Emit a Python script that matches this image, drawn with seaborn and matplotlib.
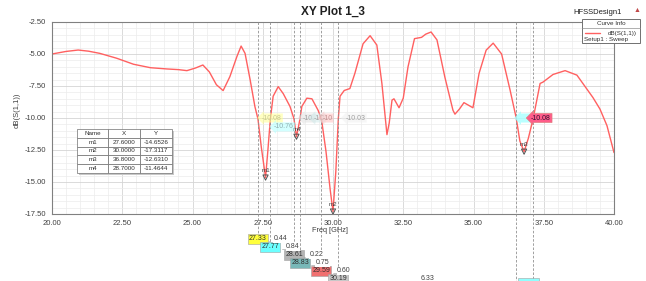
import numpy as np
import pandas as pd
import matplotlib
matplotlib.use("Agg")
import matplotlib.pyplot as plt
from matplotlib.ticker import MultipleLocator, FormatStrFormatter
from matplotlib.patches import Rectangle
from matplotlib.lines import Line2D
import seaborn as sns

# curve dB(S(1,1))
freq = [20.0, 20.5, 20.93, 21.3, 21.7, 22.3, 22.9, 23.5, 24.1, 24.5, 24.8,
        25.1, 25.37, 25.6, 25.85, 26.09, 26.33, 26.58, 26.73, 26.87, 27.05,
        27.22, 27.33, 27.45, 27.6, 27.68, 27.77, 27.87, 28.05, 28.23, 28.47,
        28.61, 28.7, 28.77, 28.83, 28.89, 29.07, 29.25, 29.47, 29.59, 29.75,
        29.9, 30.0, 30.1, 30.19, 30.25, 30.4, 30.6, 30.78, 31.07, 31.32,
        31.56, 31.74, 31.92, 32.0, 32.1, 32.17, 32.35, 32.5, 32.67, 32.9,
        33.15, 33.3, 33.49, 33.7, 33.98, 34.27, 34.34, 34.5, 34.66, 34.82,
        34.98, 35.2, 35.45, 35.7, 36.0, 36.3, 36.52, 36.65, 36.8, 36.95,
        37.12, 37.37, 37.47, 37.83, 38.26, 38.68, 39.25, 39.5, 39.75, 40.0]
db = [-5.00, -4.80, -4.69, -4.78, -4.95, -5.33, -5.80, -6.07, -6.17, -6.22,
      -6.30, -6.10, -5.86, -6.40, -7.40, -7.86, -6.77, -5.20, -4.38, -4.95,
      -7.00, -9.10, -10.08, -12.3, -14.65, -12.6, -10.10, -8.30, -7.55,
      -8.10, -9.10, -10.05, -11.46, -10.70, -10.00, -9.10, -8.45, -8.50,
      -9.40, -10.10, -12.6, -15.6, -17.31, -14.2, -10.03, -8.30, -7.85,
      -7.70, -6.50, -4.20, -3.57, -4.30, -7.30, -11.30, -10.40, -8.60,
      -8.50, -9.20, -8.45, -6.00, -3.80, -3.70, -3.45, -3.28, -3.90, -6.80,
      -9.40, -9.70, -9.30, -8.80, -9.00, -9.20, -6.50, -4.70, -4.15, -5.00,
      -7.80, -10.00, -11.80, -12.63, -11.60, -10.08, -7.30, -7.20, -6.60,
      -6.30, -6.65, -8.40, -9.30, -10.60, -12.70]

marker_names = ["m1", "m2", "m3", "m4"]
marker_x = [27.6, 30.0, 36.8, 28.7]
marker_y = [-14.6526, -17.3117, -12.6310, -11.4644]

# -10 dB crossing markers
cross_x = [27.33, 27.77, 28.61, 28.83, 29.59, 30.19, 36.52, 37.12]
cross_labels = ["27.33", "27.77", "28.61", "28.83", "29.59", "30.19"]
cross_vals = ["-10.08", "-10.76", "-10.", "-1C", "-10", "-10.03", "", "-10.08"]
delta_labels = ["0.44", "0.84", "0.22", "0.75", "0.60", "6.33"]

sns.set_style("white")
plt.rcParams["font.family"] = ["Liberation Sans", "DejaVu Sans"]

W, H = 646, 281
fig = plt.figure(figsize=(W / 100, H / 100), dpi=100)
ax = fig.add_axes([52 / W, 1 - 214 / H, 562 / W, 192 / H])

df = pd.DataFrame({"Freq": freq, "dB": db})
sns.lineplot(data=df, x="Freq", y="dB", ax=ax, color="#ff6060", linewidth=1.0)

ax.set_xlim(20, 40)
ax.set_ylim(-17.5, -2.5)
ax.xaxis.set_major_locator(MultipleLocator(2.5))
ax.xaxis.set_minor_locator(MultipleLocator(0.5))
ax.yaxis.set_major_locator(MultipleLocator(2.5))
ax.yaxis.set_minor_locator(MultipleLocator(0.5))
ax.xaxis.set_major_formatter(FormatStrFormatter("%.2f"))
ax.yaxis.set_major_formatter(FormatStrFormatter("%.2f"))
ax.tick_params(which="major", direction="out", length=3, width=0.6,
               color="#606060", labelsize=5.5, labelcolor="#404040", pad=1.5)
ax.tick_params(which="minor", direction="out", length=1.5, width=0.5, color="#606060")
ax.grid(which="major", color="#d4d4d4", linewidth=0.6)
ax.grid(which="minor", color="#ececec", linewidth=0.5)
ax.set_axisbelow(True)
for s in ax.spines.values():
    s.set_color("#808080")
    s.set_linewidth(0.8)
ax.set_xlabel("")
ax.set_ylabel("")

fig.text(330 / W, 1 - 230.5 / H, "Freq [GHz]", ha="center", va="center",
         fontsize=5.3, color="#404040")
fig.text(17 / W, 1 - 110 / H, "dB(S(1,1))", ha="center", va="center",
         rotation=90, fontsize=5.5, color="#404040")
fig.text(333 / W, 1 - 12 / H, "XY Plot 1_3", ha="center", va="center",
         fontsize=8.5, fontweight="bold", color="#202020")
fig.text(598 / W, 1 - 12 / H, "HFSSDesign1", ha="center", va="center",
         fontsize=5.5, color="#202020")
fig.text(637 / W, 1 - 11 / H, "\u25b2", ha="center", va="center",
         fontsize=5, color="#c04848")

# markers m1..m4
ax.scatter(marker_x, marker_y, marker="v", s=14, facecolors="none",
           edgecolors="#505050", linewidths=0.7, zorder=5)
for n, mx, my in zip(marker_names, marker_x, marker_y):
    ax.annotate(n, (mx, my), xytext=(0, 3.5), textcoords="offset points",
                ha="center", va="bottom", fontsize=4.5, color="#404040", zorder=6)

# vertical dashed lines and bottom readout boxes
xt = ax.get_xaxis_transform()
box_colors = ["#ffff3c", "#6cffff", "#b4b4b4", "#78b8b8", "#f07070", "#c8c8c8"]
row_px = [239 + 8 * i for i in range(7)] + [300]
row_y = [(214 - r) / 192 for r in row_px]
for i, x in enumerate(cross_x):
    ax.plot([x, x], [1, row_y[i]], transform=xt, clip_on=False,
            color="#909090", linestyle=(0, (3, 2)), linewidth=0.6, zorder=3)
for i in range(6):
    ax.text(cross_x[i], row_y[i], cross_labels[i], transform=xt, ha="center",
            va="center", fontsize=5, color="#303030", zorder=7, clip_on=False,
            bbox=dict(boxstyle="square,pad=0.15", facecolor=box_colors[i],
                      edgecolor="#a0a0a0", linewidth=0.4))
# last readout box is cut by the bottom edge in the reference
ax.add_patch(Rectangle((cross_x[6] + 0.05, (214 - 284) / 192), 0.75, 6 / 192,
                       transform=xt, clip_on=False, facecolor="#90ffff",
                       edgecolor="#a0a0a0", linewidth=0.4, zorder=7))
for i, d in enumerate(delta_labels):
    x0, x1 = cross_x[i], cross_x[i + 1]
    ax.plot([x0 + 0.4, x1], [row_y[i] - 0.01, row_y[i] - 0.01], transform=xt,
            clip_on=False, color="#a8a8a8", linewidth=0.5, zorder=2)
    tx = x0 + 0.8 if x1 - x0 < 2 else (x0 + x1) / 2
    ax.text(tx, row_y[i], d, transform=xt, ha="center", va="center",
            fontsize=5, color="#404040", clip_on=False, zorder=7,
            bbox=dict(boxstyle="square,pad=0.05", facecolor="white", edgecolor="none"))

# readouts on the -10 dB line
val_left = [27.47, 27.9, 28.92, 29.3, 29.62, 30.45, 36.62, 37.05]
val_y = [-10.0, -10.7, -10.0, -10.0, -10.0, -10.0, -10.0, -10.0]
val_face = ["#ffff90", "#b0ffff", "#e0e0e0", "#d0eaea", "#ffc0c0", "#f0f0f0", "#a8ffff", "#ff5c8a"]
val_alpha = [0.55, 0.55, 0.55, 0.55, 0.55, 0.55, 0.8, 1.0]
val_text = ["#c8c890", "#90b0b0", "#a0a0a0", "#a0a0a0", "#c09090", "#a0a0a0", "#606060", "#301030"]
for i in range(8):
    ax.text(val_left[i], val_y[i], cross_vals[i] if cross_vals[i] else "     ",
            ha="left", va="center", fontsize=5, color=val_text[i], zorder=8,
            bbox=dict(boxstyle="larrow,pad=0.15", facecolor=val_face[i],
                      edgecolor="#e08080" if i == 7 else "none",
                      linewidth=0.5, alpha=val_alpha[i]))

# marker table
col_labels = ["Name", "X", "Y"]
cells = [[n, f"{x:.4f}", f"{y:.4f}"] for n, x, y in zip(marker_names, marker_x, marker_y)]
tb_ax = [(77 - 52) / 562, (214 - 173) / 192, 95 / 562, 44 / 192]
shadow = Rectangle((tb_ax[0] + 0.004, tb_ax[1] - 0.012), tb_ax[2], tb_ax[3],
                   transform=ax.transAxes, facecolor="#c8c8c8", edgecolor="none", zorder=8)
ax.add_patch(shadow)
tbl = ax.table(cellText=cells, colLabels=col_labels, cellLoc="center",
               bbox=tb_ax, colWidths=[0.33, 0.335, 0.335])
tbl.auto_set_font_size(False)
tbl.set_fontsize(4.5)
tbl.set_zorder(9)
for (r, c), cell in tbl.get_celld().items():
    cell.set_edgecolor("#707070")
    cell.set_linewidth(0.5)
    cell.set_facecolor("white")
    cell.get_text().set_color("#303030")

# curve info legend
lx0, ly0, lx1, ly1 = 582, 19, 640, 43
fig.patches.append(Rectangle((lx0 / W, 1 - ly1 / H), (lx1 - lx0) / W, (ly1 - ly0) / H,
                             transform=fig.transFigure, facecolor="white",
                             edgecolor="#707070", linewidth=0.7, zorder=10))
fig.lines.append(Line2D([lx0 / W, lx1 / W], [1 - 28 / H, 1 - 28 / H],
                        transform=fig.transFigure, color="#909090", linewidth=0.5, zorder=11))
fig.lines.append(Line2D([585 / W, 600 / W], [1 - 33 / H, 1 - 33 / H],
                        transform=fig.transFigure, color="#ff6060", linewidth=1.0, zorder=11))
fig.text(611 / W, 1 - 23.5 / H, "Curve Info", ha="center", va="center",
         fontsize=4.5, color="#303030", zorder=11)
fig.text(637 / W, 1 - 33 / H, "dB(S(1,1))", ha="right", va="center",
         fontsize=4.5, color="#303030", zorder=11)
fig.text(584 / W, 1 - 39 / H, "Setup1 : Sweep", ha="left", va="center",
         fontsize=4.5, color="#303030", zorder=11)

fig.savefig("out.png", dpi=100, facecolor="white")
